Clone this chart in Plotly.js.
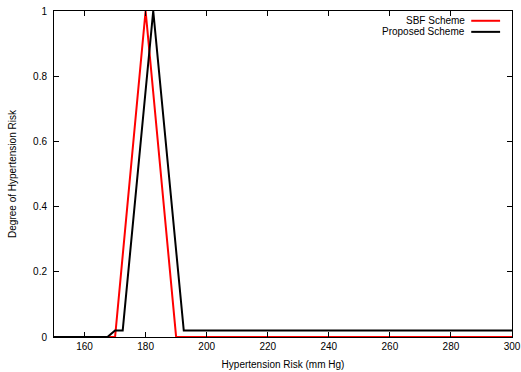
<!DOCTYPE html>
<html>
<head>
<meta charset="utf-8">
<script src="https://cdn.plot.ly/plotly-3.0.1.min.js"></script>
<style>html,body{margin:0;padding:0;background:#fff;}#chart{width:521px;height:372px;}</style>
</head>
<body>
<div id="chart"></div>
<script>
const sbfX = [150, 170, 180, 190, 300];
const sbfY = [0, 0, 1, 0, 0];
const propX = [150, 167.5, 170, 172.5, 182.5, 192.5, 300];
const propY = [0, 0, 0.02, 0.02, 1, 0.02, 0.02];
const seriesNames = ["SBF Scheme", "Proposed Scheme"];
const xTicks = [160, 180, 200, 220, 240, 260, 280, 300];
const yTicks = [0, 0.2, 0.4, 0.6, 0.8, 1];
const yTickText = ["0", "0.2", "0.4", "0.6", "0.8", "1"];

const font = {family: "Liberation Sans, Arial, sans-serif", size: 10, color: "#000"};

const traces = [
  {x: sbfX, y: sbfY, mode: "lines", name: seriesNames[0], line: {color: "#ff0000", width: 2}, showlegend: false},
  {x: propX, y: propY, mode: "lines", name: seriesNames[1], line: {color: "#000000", width: 2}, showlegend: false}
];

const legendColors = ["#ff0000", "#000000"];
const annotations = seriesNames.map((n, i) => ({
  xref: "paper", yref: "paper", x: 0.902, y: 0.970 - i * 0.034,
  xanchor: "right", yanchor: "middle", text: n, showarrow: false, font: font
}));
const shapes = seriesNames.map((n, i) => ({
  type: "line", xref: "paper", yref: "paper",
  x0: 0.911, x1: 0.974, y0: 0.970 - i * 0.034, y1: 0.970 - i * 0.034,
  line: {color: legendColors[i], width: 2}
}));

const layout = {
  width: 521, height: 372,
  margin: {l: 54, r: 9, t: 11, b: 35},
  paper_bgcolor: "#fff", plot_bgcolor: "#fff",
  font: font,
  showlegend: false,
  xaxis: {
    range: [150, 300], tickvals: xTicks, ticks: "inside", ticklen: 5, tickcolor: "#000",
    showgrid: false, zeroline: false, showline: true, linecolor: "#000", linewidth: 1, mirror: "allticks",
    title: {text: "Hypertension Risk (mm Hg)", font: font, standoff: 9},
    tickfont: font
  },
  yaxis: {
    range: [0, 1], tickvals: yTicks, ticktext: yTickText, ticks: "inside", ticklen: 5, tickcolor: "#000",
    showgrid: false, zeroline: false, showline: true, linecolor: "#000", linewidth: 1, mirror: "allticks",
    title: {text: "Degree of Hypertension Risk", font: font, standoff: 14},
    tickfont: font, ticklabelstandoff: 4
  },
  annotations: annotations,
  shapes: shapes
};

Plotly.newPlot("chart", traces, layout, {displayModeBar: false, staticPlot: true});
</script>
</body>
</html>
